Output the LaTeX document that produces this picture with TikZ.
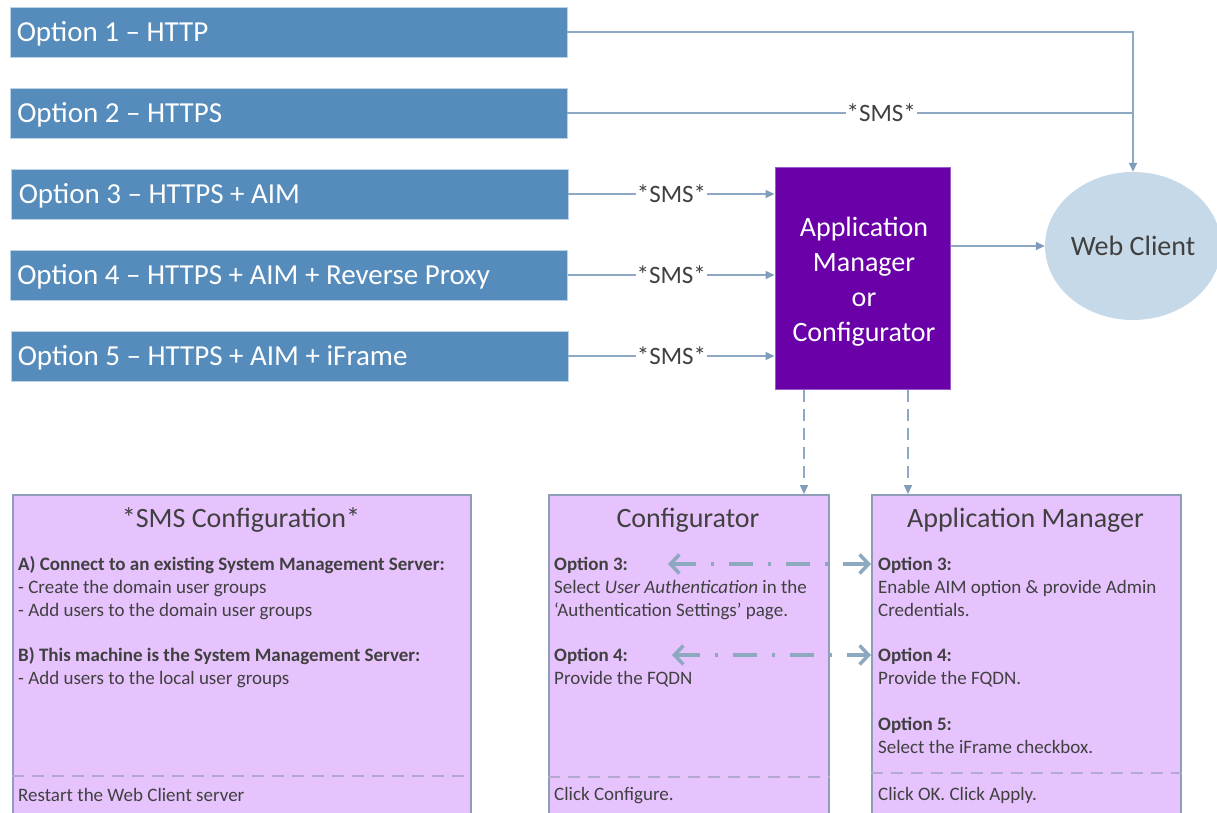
\documentclass[tikz,border=0pt]{standalone}
\usepackage{fontspec}
\setmainfont{Carlito}
\usetikzlibrary{arrows.meta,shapes.geometric}
\definecolor{optfill}{HTML}{558CBB}
\definecolor{optborder}{HTML}{BCD2E6}
\definecolor{appfill}{HTML}{6A00A8}
\definecolor{appborder}{HTML}{9A5AC8}
\definecolor{wcfill}{HTML}{C5D9E8}
\definecolor{conncol}{HTML}{8EA9C5}
\definecolor{tipcol}{HTML}{7F9CBA}
\definecolor{cardfill}{HTML}{E7C3FE}
\definecolor{cardborder}{HTML}{8E9DB8}
\definecolor{sepcol}{HTML}{B3A9D0}
\definecolor{txt}{HTML}{404040}
\definecolor{dacol}{HTML}{8DA9C0}
\tikzset{
  optbox/.style={draw=optborder, fill=optfill, line width=0.8pt,
    minimum width=557pt, minimum height=50pt, inner sep=0pt},
  opttext/.style={text=white, font=\fontsize{29}{35}\selectfont, anchor=west,
    inner sep=0pt, text height=18.5pt, text depth=0pt},
  appbox/.style={draw=appborder, fill=appfill, line width=1pt,
    minimum width=175pt, minimum height=221pt, inner sep=0pt},
  apptext/.style={text=white, align=center, font=\fontsize{28}{35}\selectfont, inner sep=0pt},
  wcnode/.style={ellipse, fill=wcfill, text=txt, font=\fontsize{28}{34}\selectfont,
    minimum width=172pt, minimum height=148pt, inner sep=0pt},
  card/.style={draw=cardborder, fill=cardfill, line width=1.5pt, anchor=north west, inner sep=0pt},
  cardtitle/.style={text=txt, font=\fontsize{28}{34}\selectfont, anchor=base, inner sep=0pt},
  body/.style={text=txt, font=\fontsize{19}{23}\selectfont, anchor=base west, inner sep=0pt},
  bodyb/.style={body, font=\fontsize{19}{23}\selectfont\bfseries},
  conn/.style={draw=conncol, line width=1.5pt, -{Triangle[length=9pt,width=8pt,color=tipcol]}},
  plainconn/.style={draw=conncol, line width=1.5pt},
  smslabel/.style={fill=white, text=txt, font=\fontsize{25}{30}\selectfont, inner xsep=1pt, inner ysep=0pt},
  dconn/.style={conn, dash pattern=on 12pt off 7pt},
  sepline/.style={draw=sepcol, line width=1.5pt, dash pattern=on 12pt off 8pt},
  dablink/.style={draw=dacol, line width=3.5pt, dash pattern=on 24pt off 15pt on 3pt off 15pt,
    {Straight Barb[length=9pt,width=19pt,line width=3.5pt]}-{Straight Barb[length=9pt,width=19pt,line width=3.5pt]}}
}
\begin{document}
\begin{tikzpicture}[x=1pt,y=-1pt]
\useasboundingbox (0,0) rectangle (1217,813);
\begin{scope}
\clip (0,0) rectangle (1217,813);
% option boxes
\node[optbox] (o1) at (288.5,32) {};
\node[optbox] (o2) at (288.5,113) {};
\node[optbox] (o3) at (289.5,194) {};
\node[optbox] (o4) at (289,275) {};
\node[optbox] (o5) at (289.5,356) {};
\node[opttext] (ot1) at ([xshift=7pt]o1.west) {Option 1 – HTTP};
\node[opttext] (ot2) at ([xshift=7.5pt]o2.west) {Option 2 – HTTPS};
\node[opttext] (ot3) at ([xshift=8pt]o3.west) {Option 3 – HTTPS + AIM};
\node[opttext] (ot4) at ([xshift=7pt]o4.west) {Option 4 – HTTPS + AIM + Reverse Proxy};
\node[opttext] (ot5) at ([xshift=7pt]o5.west) {Option 5 – HTTPS + AIM + iFrame};
% central box and web client
\node[appbox] (app) at (862.5,278.5) {};
\node[apptext] (appt) at ([xshift=1.5pt,yshift=-3pt]app.center) {Application\\Manager\\or\\Configurator};
\node[wcnode] (wc) at (1133,246) {Web Client};
% connectors
\draw[conn] (o1.east) -- (o1.east -| wc.north) -- (wc.north);
\draw[plainconn] (o2.east) -- node[smslabel, pos=0.555] {*SMS*} (o2.east -| wc.north);
\draw[conn] (o3.east) -- node[smslabel] {*SMS*} (o3.east -| app.west);
\draw[conn] (o4.east) -- node[smslabel] {*SMS*} (o4.east -| app.west);
\draw[conn] (o5.east) -- node[smslabel] {*SMS*} (o5.east -| app.west);
\draw[conn] (app.east |- wc.west) -- (wc.west);
% cards
\node[card, minimum width=458pt, minimum height=340pt] (sms) at (12,494) {};
\node[card, minimum width=280pt, minimum height=340pt] (cfg) at (548,494) {};
\node[card, minimum width=309pt, minimum height=340pt] (amg) at (871,494) {};
% dashed arrows from central box
\coordinate (dA) at (804,390);
\coordinate (dB) at (908,390);
\draw[dconn] (dA) -- (dA |- cfg.north);
\draw[dconn] (dB) -- (dB |- amg.north);
% separators
\draw[sepline] (sms.west |- 0,776) -- (sms.east |- 0,776);
\draw[sepline] (cfg.west |- 0,777) -- (cfg.east |- 0,777);
\draw[sepline] (amg.west |- 0,773) -- (amg.east |- 0,773);
% titles
\node[cardtitle] (t1) at (241,527) {*SMS Configuration*};
\node[cardtitle] (t2) at (688,527) {Configurator};
\node[cardtitle] (t3) at (1025.5,527) {Application Manager};
% SMS text
\node[bodyb] (s1) at (18,570) {A) Connect to an existing System Management Server:};
\node[body] (s2) at (18,593) {- Create the domain user groups};
\node[body] (s3) at (18,616) {- Add users to the domain user groups};
\node[bodyb] (s4) at (18,661) {B) This machine is the System Management Server:};
\node[body] (s5) at (18,684) {- Add users to the local user groups};
\node[body] (s6) at (18,801) {Restart the Web Client server};
% Configurator text
\node[bodyb] (c1) at (554,570) {Option 3:};
\node[body] (c2) at (554,593) {Select \textit{User Authentication} in the};
\node[body] (c3) at (554,616) {‘Authentication Settings’ page.};
\node[bodyb] (c4) at (554,661) {Option 4:};
\node[body] (c5) at (554,684) {Provide the FQDN};
\node[body] (c6) at (554,800) {Click Configure.};
% Application Manager text
\node[bodyb] (a1) at (878,570) {Option 3:};
\node[body] (a2) at (878,593) {Enable AIM option \& provide Admin};
\node[body] (a3) at (878,616) {Credentials.};
\node[bodyb] (a4) at (878,661) {Option 4:};
\node[body] (a5) at (878,684) {Provide the FQDN.};
\node[bodyb] (a6) at (878,730) {Option 5:};
\node[body] (a7) at (878,753) {Select the iFrame checkbox.};
\node[body] (a8) at (878,800) {Click OK. Click Apply.};
% dash-dot double arrows
\coordinate (e1l) at (668,564);
\coordinate (e2l) at (672,655);
\draw[dablink] (e1l) -- (e1l -| amg.west);
\draw[dablink] (e2l) -- (e2l -| amg.west);
\end{scope}
\end{tikzpicture}
\end{document}
